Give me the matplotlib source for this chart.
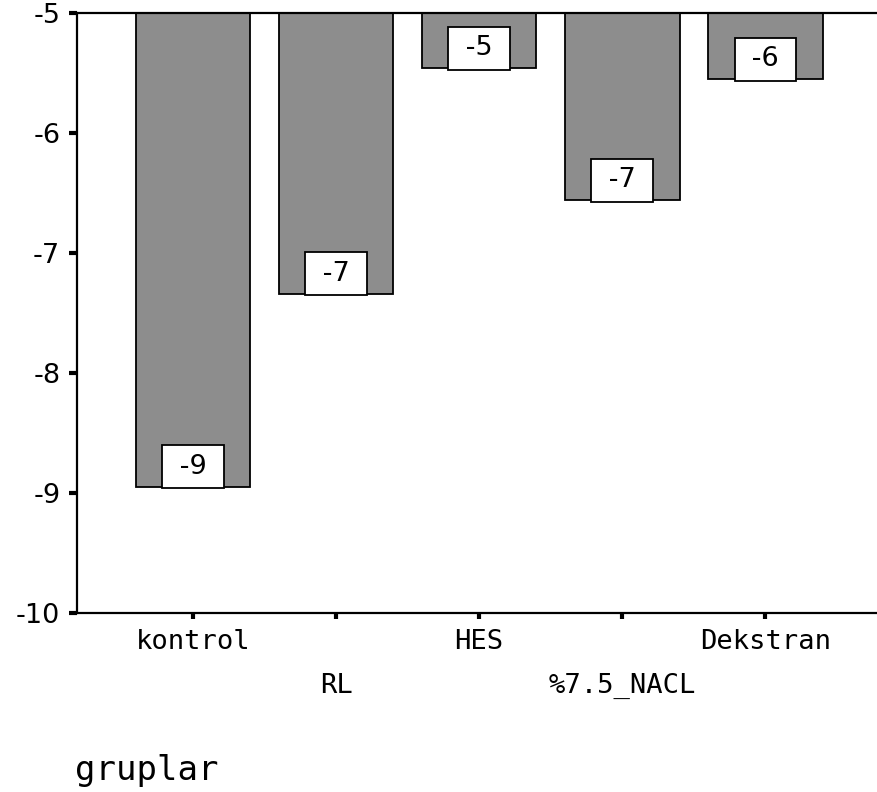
import matplotlib
matplotlib.use("Agg")
import matplotlib.pyplot as plt
from matplotlib.transforms import blended_transform_factory

plt.rcParams["axes.unicode_minus"] = False

# Group means
groups = ["kontrol", "RL", "HES", "%7.5_NACL", "Dekstran"]
values = [-8.95, -7.34, -5.46, -6.56, -5.55]
yticks = [-10, -9, -8, -7, -6, -5]
xlabel = "gruplar"

W, H = 877, 792
fig = plt.figure(figsize=(W / 100, H / 100), dpi=100)
left, right = 77 / W, 1.0
bottom, top = (H - 612.7) / H, (H - 13.3) / H
ax = fig.add_axes([left, bottom, right - left, top - bottom])

x = list(range(len(groups)))
ax.bar(x, values, width=0.8, color="#8d8d8d", edgecolor="black", linewidth=1.3)

ax.set_xlim(-0.81, 4.78)
ax.set_ylim(-10, -5)

for side in ("right",):
    ax.spines[side].set_visible(False)
for side in ("left", "bottom", "top"):
    ax.spines[side].set_linewidth(1.6)

ax.set_yticks(yticks)
ax.set_yticklabels([str(t) for t in yticks], fontsize=19.5, family="DejaVu Sans")
ax.tick_params(axis="y", direction="out", length=6, width=3, pad=6)

ax.set_xticks(x)
ax.set_xticklabels([])
ax.tick_params(axis="x", direction="out", length=4, width=3)

# Staggered category labels under the axis
trans = blended_transform_factory(ax.transData, ax.transAxes)
row_gap = 44 / (612.7 - 13.3)
for i, g in enumerate(groups):
    yrow = -0.06 - (row_gap if i % 2 else 0)
    ax.text(i, yrow, g, transform=trans, ha="center", va="baseline",
            fontsize=19.5, family="DejaVu Sans Mono")

# Boxed value labels near the bar ends
for i, v in enumerate(values):
    ax.annotate(f" {round(v):d} ", xy=(i, v), xytext=(0, 14.4),
                textcoords="offset points", ha="center", va="center",
                fontsize=19.5, family="DejaVu Sans",
                bbox=dict(boxstyle="square,pad=0.32", facecolor="white",
                          edgecolor="black", linewidth=1.3))

fig.text(75 / W, 1 - 780 / H, xlabel, ha="left", va="baseline",
         fontsize=24.5, family="DejaVu Sans Mono")

fig.savefig("out.png", dpi=100)
